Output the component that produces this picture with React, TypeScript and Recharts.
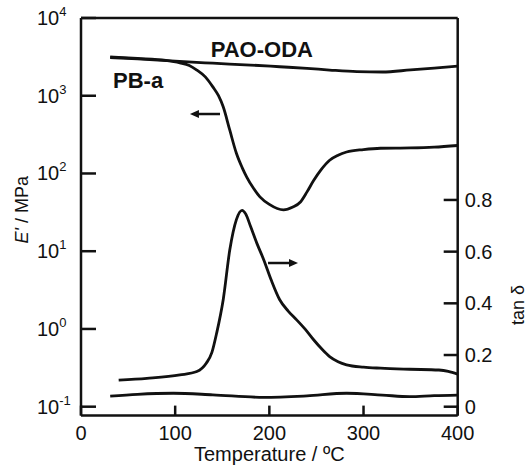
import React from 'react';
import { ComposedChart, Line, XAxis, YAxis, ReferenceLine, ReferenceDot } from 'recharts';

// ---- tick labels ----
const temperatureTicks = [0, 100, 200, 300, 400];
const modulusTicks = [0.1, 1, 10, 100, 1000, 10000];
const tanTicks = [0, 0.2, 0.4, 0.6, 0.8];

// ---- E' (MPa), PAO-ODA ----
const paoModT = [31, 60, 100, 140, 180, 211, 240, 264, 293, 320, 350, 375, 400];
const paoModE = [3100, 2980, 2780, 2620, 2480, 2360, 2250, 2140, 2040, 2020, 2150, 2270, 2400];

// ---- E' (MPa), PB-a ----
const pbModT = [31, 60, 90, 105, 115, 123, 132, 140, 146, 151, 158, 165, 171, 176, 183, 190, 200, 215, 225, 233, 240, 247, 255, 264, 273, 282, 300, 318, 350, 375, 400];
const pbModE = [3150, 3020, 2850, 2650, 2450, 2140, 1750, 1300, 1000, 720, 360, 182, 120, 90, 65, 50, 40, 34, 37, 43, 58, 81, 112, 148, 172, 189, 203, 211, 213, 218, 229];

// ---- tan delta, PB-a ----
const pbTanT = [40, 70, 105, 123, 133, 139, 144, 151, 158, 165, 171, 175, 180, 187, 194, 202, 211, 220, 229, 238, 247, 256, 264, 273, 282, 300, 318, 349, 380, 390, 400];
const pbTanV = [0.103, 0.110, 0.123, 0.136, 0.168, 0.21, 0.284, 0.414, 0.607, 0.724, 0.760, 0.745, 0.698, 0.63, 0.569, 0.49, 0.414, 0.37, 0.336, 0.30, 0.259, 0.222, 0.194, 0.174, 0.162, 0.153, 0.149, 0.145, 0.142, 0.137, 0.126];

// ---- tan delta, PAO-ODA ----
const paoTanT = [31, 60, 98, 140, 194, 240, 282, 320, 349, 375, 400];
const paoTanV = [0.041, 0.048, 0.052, 0.046, 0.036, 0.042, 0.052, 0.045, 0.039, 0.043, 0.045];

// ---- annotations (data coordinates) ----
const paoLabel = { t: 192, e: 3140, text: 'PAO-ODA' };
const pbLabel = { t: 34, e: 1250, text: 'PB-a' };
const leftArrow = { t1: 147.6, t2: 115.7, e: 582 };
const rightArrow = { t1: 198.6, t2: 230.4, v: 0.556 };

const toPoints = (ts: number[], vs: number[]) => ts.map((t, i) => ({ t, v: vs[i] }));
const paoMod = toPoints(paoModT, paoModE);
const pbMod = toPoints(pbModT, pbModE);
const pbTan = toPoints(pbTanT, pbTanV);
const paoTan = toPoints(paoTanT, paoTanV);

const FONT = '"Liberation Sans", Arial, Helvetica, sans-serif';
const INK = '#111';

const LeftTick = (props: any) => {
  const { x, y, payload } = props;
  const exp = Math.round(Math.log10(payload.value));
  return (
    <g>
      <line x1={x} y1={y} x2={x + 15} y2={y} stroke={INK} strokeWidth={2.5} />
      <text x={x - 44} y={y + 7} fontSize={20} fontFamily={FONT} fill={INK}>
        10<tspan fontSize={13} dy={-9}>{exp}</tspan>
      </text>
    </g>
  );
};

const RightTick = (props: any) => {
  const { x, y, payload } = props;
  return (
    <g>
      <line x1={x} y1={y} x2={x - 14} y2={y} stroke={INK} strokeWidth={2.5} />
      <text x={x + 7} y={y + 7} fontSize={20} fontFamily={FONT} fill={INK}>
        {payload.value === 0 ? '0' : String(payload.value)}
      </text>
    </g>
  );
};

const BottomTick = (props: any) => {
  const { x, y, payload } = props;
  return (
    <g>
      <line x1={x} y1={y} x2={x} y2={y - 10} stroke={INK} strokeWidth={2.5} />
      <text x={x} y={y + 24} fontSize={20} fontFamily={FONT} fill={INK} textAnchor="middle">
        {payload.value}
      </text>
    </g>
  );
};

const LeftTitle = (props: any) => {
  const vb = props.viewBox;
  const cx = vb.x + 28;
  const cy = vb.y + vb.height / 2 - 7;
  return (
    <text x={cx} y={cy} transform={`rotate(-90, ${cx}, ${cy})`} textAnchor="middle" fontSize={18} fontFamily={FONT} fill={INK}>
      <tspan fontStyle="italic">E'</tspan> / MPa
    </text>
  );
};

const RightTitle = (props: any) => {
  const vb = props.viewBox;
  const cx = vb.x + 66;
  const cy = vb.y + 287;
  return (
    <text x={cx} y={cy} transform={`rotate(-90, ${cx}, ${cy})`} textAnchor="middle" fontSize={18} fontFamily={FONT} fill={INK}>
      tan δ
    </text>
  );
};

const BottomTitle = (props: any) => {
  const vb = props.viewBox;
  return (
    <text x={vb.x + vb.width / 2} y={vb.y + 45.5} textAnchor="middle" fontSize={20} fontFamily={FONT} fill={INK}>
      Temperature / ºC
    </text>
  );
};

const Arrow = (props: any) => {
  const { x1, y1, x2, y2 } = props;
  const dir = x2 > x1 ? 1 : -1;
  const headLen = 9;
  const hw = 4;
  return (
    <g>
      <line x1={x1} y1={y1} x2={x2 - dir * headLen * 0.8} y2={y2} stroke={INK} strokeWidth={2.5} />
      <polygon points={`${x2},${y2} ${x2 - dir * headLen},${y2 - hw} ${x2 - dir * headLen},${y2 + hw}`} fill={INK} />
    </g>
  );
};

const makeTextShape = (text: string, anchor: string) => (props: any) => (
  <text x={props.cx} y={props.cy} textAnchor={anchor} fontSize={22} fontWeight="bold" fontFamily={FONT} fill={INK}>
    {text}
  </text>
);

export default function App() {
  return (
    <div style={{ position: 'absolute', left: 0, top: 0, width: 529, height: 466, background: '#fff' }}>
      <ComposedChart width={529} height={466} margin={{ top: 18, right: 0, bottom: 0, left: 0 }}>
        <XAxis
          xAxisId="b"
          type="number"
          dataKey="t"
          domain={[0, 400]}
          ticks={temperatureTicks}
          allowDataOverflow
          height={50.4}
          tickSize={0}
          tickMargin={0}
          tickLine={false}
          axisLine={{ stroke: INK, strokeWidth: 2.5 }}
          tick={<BottomTick />}
          label={BottomTitle}
        />
        <YAxis
          yAxisId="left"
          orientation="left"
          type="number"
          scale="log"
          domain={[0.0768, 10000]}
          ticks={modulusTicks}
          allowDataOverflow
          width={81}
          tickSize={0}
          tickMargin={0}
          tickLine={false}
          axisLine={{ stroke: INK, strokeWidth: 2.5 }}
          tick={<LeftTick />}
          label={LeftTitle}
        />
        <YAxis
          yAxisId="right"
          orientation="right"
          type="number"
          domain={[-0.0344, 1.504]}
          ticks={tanTicks}
          allowDataOverflow
          width={71.3}
          tickSize={0}
          tickMargin={0}
          tickLine={false}
          axisLine={{ stroke: INK, strokeWidth: 2.5 }}
          tick={<RightTick />}
          label={RightTitle}
        />
        <ReferenceLine xAxisId="b" yAxisId="left" y={10000} stroke={INK} strokeWidth={2.5} />
        <Line xAxisId="b" yAxisId="left" data={paoMod} dataKey="v" type="monotone" stroke={INK} strokeWidth={2.8} dot={false} isAnimationActive={false} />
        <Line xAxisId="b" yAxisId="left" data={pbMod} dataKey="v" type="monotone" stroke={INK} strokeWidth={2.8} dot={false} isAnimationActive={false} />
        <Line xAxisId="b" yAxisId="right" data={pbTan} dataKey="v" type="monotone" stroke={INK} strokeWidth={2.8} dot={false} isAnimationActive={false} />
        <Line xAxisId="b" yAxisId="right" data={paoTan} dataKey="v" type="monotone" stroke={INK} strokeWidth={2.8} dot={false} isAnimationActive={false} />
        <ReferenceLine
          xAxisId="b"
          yAxisId="left"
          segment={[{ x: leftArrow.t1, y: leftArrow.e }, { x: leftArrow.t2, y: leftArrow.e }]}
          shape={Arrow}
        />
        <ReferenceLine
          xAxisId="b"
          yAxisId="right"
          segment={[{ x: rightArrow.t1, y: rightArrow.v }, { x: rightArrow.t2, y: rightArrow.v }]}
          shape={Arrow}
        />
        <ReferenceDot xAxisId="b" yAxisId="left" x={paoLabel.t} y={paoLabel.e} r={0} shape={makeTextShape(paoLabel.text, 'middle')} />
        <ReferenceDot xAxisId="b" yAxisId="left" x={pbLabel.t} y={pbLabel.e} r={0} shape={makeTextShape(pbLabel.text, 'start')} />
      </ComposedChart>
    </div>
  );
}
